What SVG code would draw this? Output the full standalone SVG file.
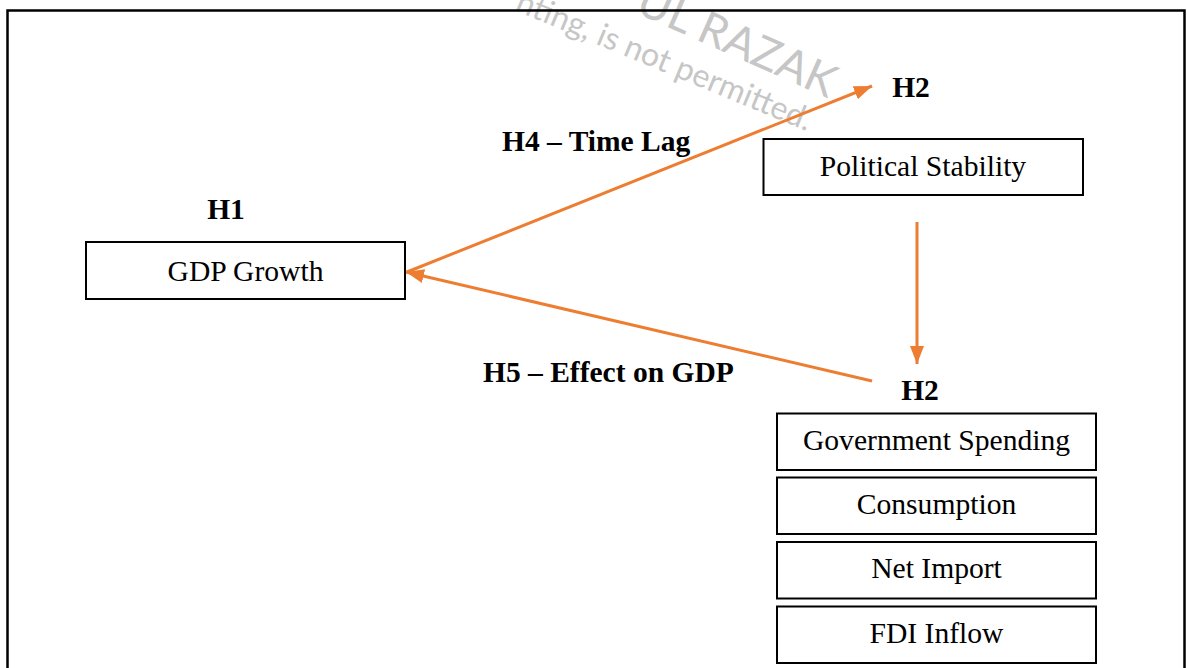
<svg xmlns="http://www.w3.org/2000/svg" width="1187" height="668" viewBox="0 0 1187 668">
  <style>
    .box { fill: #ffffff; stroke: #000000; stroke-width: 2; }
    .lbl { font-family: "Liberation Serif", "Times New Roman", serif; font-size: 29.6px; fill: #000000; text-anchor: middle; }
    .hyp { font-family: "Liberation Serif", "Times New Roman", serif; font-size: 29.5px; font-weight: bold; fill: #000000; }
    .conn { stroke: #ED7D31; stroke-width: 3; fill: none; }
    .wm { font-family: Lato, "Noto Sans", sans-serif; fill: #c6c6c6; }
  </style>
  <defs>
    <marker id="arrow" markerUnits="userSpaceOnUse" markerWidth="20" markerHeight="16" refX="18" refY="7" orient="auto">
      <path d="M0,0 L18,7 L0,14 z" fill="#ED7D31"/>
    </marker>
  </defs>
  <rect x="0" y="0" width="1187" height="668" fill="#ffffff"/>
  <!-- watermark -->
  <g id="watermark">
    <text class="wm" x="514" y="10" font-size="32" transform="rotate(22.5 514 10)">nting, is not permitted.</text>
    <text class="wm" x="634" y="12" font-size="45" transform="rotate(24 634 12)">UL RAZAK</text>
  </g>
  <!-- outer frame -->
  <rect x="7.5" y="10.5" width="1177" height="670" fill="none" stroke="#000000" stroke-width="2.5"/>

  <g id="connectors">
    <line class="conn" x1="407" y1="272" x2="872" y2="86" marker-end="url(#arrow)"/>
    <line class="conn" x1="872" y1="381" x2="406" y2="272" marker-end="url(#arrow)"/>
    <line class="conn" x1="917" y1="222" x2="917" y2="364" marker-end="url(#arrow)"/>
  </g>

  <g id="label-h4"><text class="hyp" x="502" y="151">H4 – Time Lag</text></g>
  <g id="label-h5"><text class="hyp" x="483" y="382">H5 – Effect on GDP</text></g>

  <g id="node-gdp">
    <text class="hyp" x="226" y="219" text-anchor="middle">H1</text>
    <rect class="box" x="86" y="242" width="319" height="57"/>
    <text class="lbl" x="245.5" y="281">GDP Growth</text>
  </g>

  <g id="node-political">
    <text class="hyp" x="911" y="97" text-anchor="middle">H2</text>
    <rect class="box" x="763.5" y="139" width="319.5" height="56"/>
    <text class="lbl" x="923" y="176">Political Stability</text>
  </g>

  <g id="label-h2-lower"><text class="hyp" x="920" y="400" text-anchor="middle">H2</text></g>

  <g id="node-gov">
    <rect class="box" x="777" y="413.5" width="319" height="56.5"/>
    <text class="lbl" x="936.5" y="450">Government Spending</text>
  </g>
  <g id="node-consumption">
    <rect class="box" x="777" y="477.5" width="319" height="56.5"/>
    <text class="lbl" x="936.5" y="514">Consumption</text>
  </g>
  <g id="node-netimport">
    <rect class="box" x="777" y="542" width="319" height="56.5"/>
    <text class="lbl" x="936.5" y="578">Net Import</text>
  </g>
  <g id="node-fdi">
    <rect class="box" x="777" y="606.5" width="319" height="56.5"/>
    <text class="lbl" x="936.5" y="643">FDI Inflow</text>
  </g>
</svg>
